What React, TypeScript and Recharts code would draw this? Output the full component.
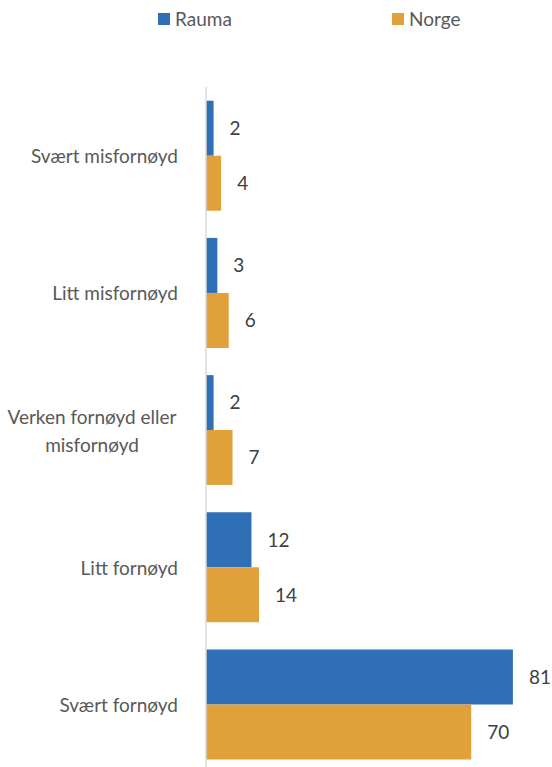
import React from 'react';
import { BarChart, Bar, XAxis, YAxis, Legend, LabelList } from 'recharts';

const categories = [
  'Svært misfornøyd',
  'Litt misfornøyd',
  'Verken fornøyd eller misfornøyd',
  'Litt fornøyd',
  'Svært fornøyd',
];
const rauma = [2, 3, 2, 12, 81];
const norge = [4, 6, 7, 14, 70];
const seriesNames = ['Rauma', 'Norge'];

const BLUE = '#2E6FB5';
const ORANGE = '#E0A03A';
const FONT = 'Lato, "Open Sans", sans-serif';

const data = categories.map((c, i) => ({ category: c, rauma: rauma[i], norge: norge[i] }));

// split long labels the way Excel wraps them
function wrapLabel(label: string, max = 20): string[] {
  if (label.length <= max) return [label];
  const cut = label.lastIndexOf(' ', max);
  return [label.slice(0, cut), label.slice(cut + 1)];
}

function CategoryTick({ x, y, payload }: any) {
  const lines = wrapLabel(String(payload.value));
  if (lines.length === 1) {
    return (
      <text x={x - 20} y={y} textAnchor="end" dominantBaseline="central" fill="#595959" fontSize={19} fontFamily={FONT}>
        {lines[0]}
      </text>
    );
  }
  return (
    <text x={x - 106} y={y} textAnchor="middle" fill="#595959" fontSize={19} fontFamily={FONT}>
      {lines.map((l, i) => (
        <tspan key={i} x={x - 106} y={y - 14 + i * 28} dominantBaseline="central">
          {l}
        </tspan>
      ))}
    </text>
  );
}

const legendX = [158, 392];

function LegendContent({ payload }: any) {
  // keep legend in series order (vertical layout reverses it)
  const items = [...(payload ?? [])].sort(
    (a: any, b: any) => seriesNames.indexOf(a.value) - seriesNames.indexOf(b.value),
  );
  return (
    <div style={{ position: 'relative', height: 40, width: 552 }}>
      {items.map((p: any, i: number) => (
        <div key={p.value} style={{ position: 'absolute', left: legendX[i], top: 13, display: 'flex', alignItems: 'center', height: 12 }}>
          <span style={{ width: 12, height: 12, background: p.color, display: 'inline-block', marginRight: 5 }} />
          <span style={{ fontFamily: FONT, fontSize: 19, color: '#595959', lineHeight: '12px' }}>{p.value}</span>
        </div>
      ))}
    </div>
  );
}

export default function App() {
  return (
    <div style={{ width: 552, height: 767, overflow: 'hidden' }}>
      <style>{'body{margin:0;overflow:hidden}'}</style>
      <BarChart
        width={552}
        height={781}
        data={data}
        layout="vertical"
        margin={{ top: 47, right: 5, bottom: 8, left: 0 }}
        barCategoryGap="10%"
        barGap={0}
      >
        <XAxis type="number" domain={[0, 90]} hide />
        <YAxis
          type="category"
          dataKey="category"
          width={206}
          axisLine={{ stroke: '#D9D9D9', strokeWidth: 1.5 }}
          tickLine={false}
          tick={<CategoryTick />}
          interval={0}
        />
        <Legend verticalAlign="top" wrapperStyle={{ top: 0, left: 0 }} content={<LegendContent />} />
        <Bar dataKey="rauma" name={seriesNames[0]} fill={BLUE} isAnimationActive={false}>
          <LabelList dataKey="rauma" position="right" offset={16} fill="#404040" fontSize={19} fontFamily={FONT} />
        </Bar>
        <Bar dataKey="norge" name={seriesNames[1]} fill={ORANGE} isAnimationActive={false}>
          <LabelList dataKey="norge" position="right" offset={16} fill="#404040" fontSize={19} fontFamily={FONT} />
        </Bar>
      </BarChart>
    </div>
  );
}
